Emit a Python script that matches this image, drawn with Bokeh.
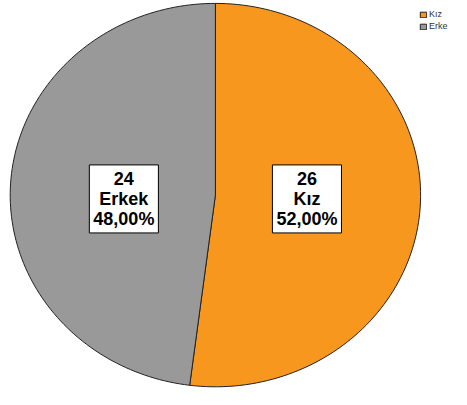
import math
from bokeh.plotting import figure
from bokeh.models import ColumnDataSource, Range1d
from bokeh.core.properties import value
from bokeh.embed import file_html
from bokeh.resources import INLINE

categories = ["Kız", "Erkek"]
counts = [26, 24]
percents = ["52,00%", "48,00%"]
legend_labels = ["Kız", "Erke"]
colors = ["#F7971E", "#999999"]

total = sum(counts)
xs, ys, lx, ly, texts = [], [], [], [], []
start = 90.0
for c, cat, pct in zip(counts, categories, percents):
    sweep = 360.0 * c / total
    end = start - sweep
    n = 120
    angs = [math.radians(start - (start - end) * i / n) for i in range(n + 1)]
    xs.append([0.0] + [math.cos(a) for a in angs])
    ys.append([0.0] + [math.sin(a) for a in angs])
    mid = math.radians((start + end) / 2)
    lx.append(0.447 * math.cos(mid))
    ly.append(-0.02)
    texts.append(f"{c}\n{cat}\n{pct}")
    start = end

src = ColumnDataSource(dict(xs=xs, ys=ys, color=colors, label=legend_labels))
lsrc = ColumnDataSource(dict(x=lx, y=ly, text=texts))

W, H = 451, 389
cx, rx = 214.9, 205.2
cy_top, ry = 194.6, 191.7
p = figure(width=W, height=H, output_backend="svg", toolbar_location=None,
           min_border=0, x_range=Range1d(-cx / rx, (W - cx) / rx),
           y_range=Range1d(-(H - cy_top) / ry, cy_top / ry))
p.axis.visible = False
p.grid.visible = False
p.outline_line_color = None

p.patches("xs", "ys", source=src, fill_color="color", line_color="#222222",
          line_width=1, legend_field="label")

p.text("x", "y", text="text", source=lsrc, text_align="center", text_baseline="middle",
       text_font=value("Liberation Sans"), text_font_style="bold", text_font_size="18px",
       text_line_height=1.0, background_fill_color="white", border_line_color="black",
       border_line_width=1, padding=4, text_color="black")

leg = p.legend[0]
leg.location = (419, 358)
leg.label_text_font_size = "9px"
leg.label_text_font = "Liberation Sans"
leg.label_text_color = "#333333"
leg.glyph_width = 8
leg.glyph_height = 7
leg.label_standoff = 2
leg.spacing = 2
leg.padding = 2
leg.margin = 0
leg.border_line_color = None
leg.background_fill_alpha = 0
leg.label_height = 7

open("out.html", "w").write(file_html(p, INLINE))
